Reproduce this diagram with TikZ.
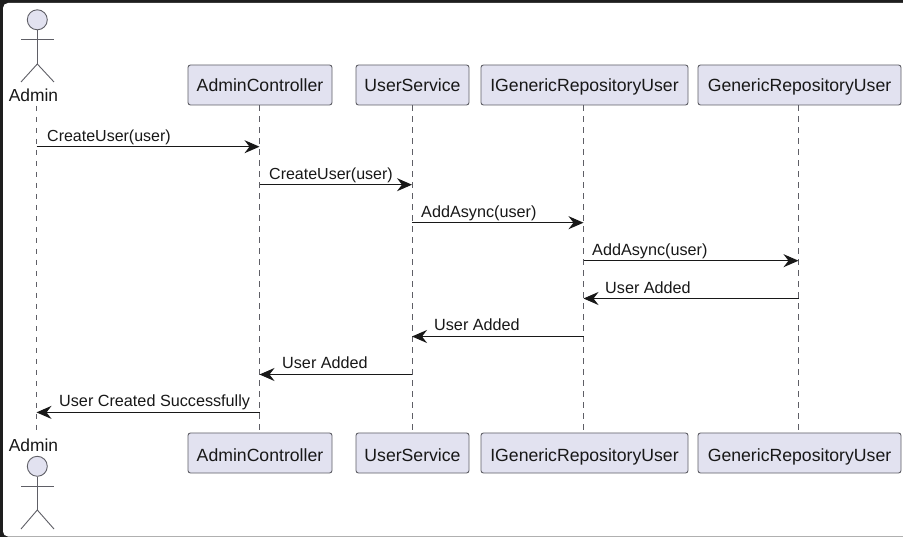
\documentclass[tikz,border=0pt]{standalone}
\usepackage{fontspec}
\setmainfont{Liberation Sans}
\usetikzlibrary{arrows.meta,calc}
\definecolor{pfill}{HTML}{E2E2F0}
\definecolor{pline}{HTML}{5F5F66}
\definecolor{pink}{HTML}{181818}
\definecolor{frame}{HTML}{1E1E1E}
\tikzset{
  part/.style={draw=pline,fill=pfill,rounded corners=2.5pt,line width=0.9pt,minimum height=40pt,inner sep=0pt,text=pink,text height=15.2pt,text depth=1.2pt,font=\fontsize{17.65}{20}\selectfont},
  partlow/.style={part,text height=16.8pt,text depth=0pt},
  actorlabel/.style={inner sep=0pt,text=pink,font=\fontsize{17.4}{20}\selectfont},
  lifeline/.style={draw=pline,line width=0.8pt,dash pattern=on 5.5pt off 5.5pt},
  actorline/.style={draw=pline,line width=0.9pt},
  actorhead/.style={draw=pline,fill=pfill,line width=0.9pt},
  msg/.style={draw=pink,line width=1.1pt,-{Stealth[length=15pt,width=13pt,inset=5pt]}},
  msglabel/.style={inner sep=0pt,anchor=base west,text=pink,font=\fontsize{16.2}{20}\selectfont},
  msgnarrow/.style={msglabel,font=\fontsize{16}{20}\selectfont},
}
\begin{document}
\begin{tikzpicture}[x=1pt,y=-1pt]
\useasboundingbox (0,0) rectangle (903,537);
\fill[frame] (0,0) rectangle (903,537);
\fill[white,rounded corners=5pt] (3,3) rectangle (920,536.5);
% participants
\node[part,minimum width=144pt] (ac1) at (260,85) {AdminController};
\node[part,minimum width=113pt] (us1) at (412.5,85) {UserService};
\node[part,minimum width=207pt] (ig1) at (584.5,85) {IGenericRepositoryUser};
\node[part,minimum width=203pt] (gr1) at (799.5,85) {GenericRepositoryUser};
\node[partlow,minimum width=144pt] (ac2) at (260,453) {AdminController};
\node[partlow,minimum width=113pt] (us2) at (412.5,453) {UserService};
\node[partlow,minimum width=207pt] (ig2) at (584.5,453) {IGenericRepositoryUser};
\node[partlow,minimum width=203pt] (gr2) at (799.5,453) {GenericRepositoryUser};
% actors
\node[actorlabel] (ad1) at (33.5,95.7) {Admin};
\node[actorlabel] (ad2) at (33.5,445.7) {Admin};
\node[actorhead,circle,minimum size=20pt,inner sep=0pt] (h1) at (37.3,19.8) {};
\node[actorhead,circle,minimum size=20pt,inner sep=0pt] (h2) at (37.3,466.3) {};
\coordinate (b1) at (37.3,64);
\coordinate (b2) at (37.3,510);
\draw[actorline] (h1.south) -- (b1);
\draw[actorline] (21,39.7) -- (54,39.7);
\draw[actorline] (21,82) -- (b1) -- (54,82);
\draw[actorline] (h2.south) -- (b2);
\draw[actorline] (21,486.3) -- (54,486.3);
\draw[actorline] (21,529) -- (b2) -- (54,529);
% lifelines
\coordinate (l1) at (36.5,106);
\coordinate (l2) at (36.5,435);
\draw[lifeline] (l1) -- (l2);
\draw[lifeline] (ac1.south -| 259.5,0) -- (ac2.north -| 259.5,0);
\draw[lifeline] (us1.south -| 412,0) -- (us2.north -| 412,0);
\draw[lifeline] (ig1.south -| 583.5,0) -- (ig2.north -| 583.5,0);
\draw[lifeline] (gr1.south -| 798.5,0) -- (gr2.north -| 798.5,0);
% messages
\draw[msg] (36.5,146.7) coordinate (m1a) -- (259.5,146.7) coordinate (m1b);
\node[msgnarrow] (t1) at (47,142) {CreateUser(user)};
\draw[msg] (259.5,184.7) coordinate (m2a) -- (412,184.7) coordinate (m2b);
\node[msgnarrow] (t2) at (269,179.5) {CreateUser(user)};
\draw[msg] (412,222.7) coordinate (m3a) -- (583.5,222.7) coordinate (m3b);
\node[msglabel] (t3) at (421,217.5) {AddAsync(user)};
\draw[msg] (583.5,260.7) coordinate (m4a) -- (798.5,260.7) coordinate (m4b);
\node[msglabel] (t4) at (592,255.5) {AddAsync(user)};
\draw[msg] (798.5,298.5) coordinate (m5a) -- (583.5,298.5) coordinate (m5b);
\node[msglabel] (t5) at (605,293.5) {User Added};
\draw[msg] (583.5,336.5) coordinate (m6a) -- (412,336.5) coordinate (m6b);
\node[msglabel] (t6) at (434,330.5) {User Added};
\draw[msg] (412,374.5) coordinate (m7a) -- (259.5,374.5) coordinate (m7b);
\node[msglabel] (t7) at (282,368.5) {User Added};
\draw[msg] (259.5,412.4) coordinate (m8a) -- (36.5,412.4) coordinate (m8b);
\node[msglabel] (t8) at (59,406.5) {User Created Successfully};
\end{tikzpicture}
\end{document}
